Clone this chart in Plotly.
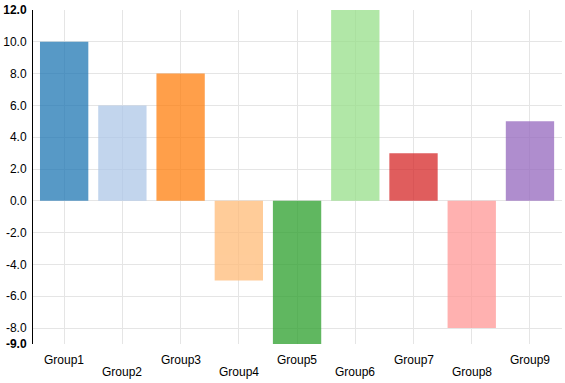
import plotly.graph_objects as go

categories = ["Group1", "Group2", "Group3", "Group4", "Group5", "Group6", "Group7", "Group8", "Group9"]
values = [10, 6, 8, -5, -9, 12, 3, -8, 5]
colors = ["#1f77b4", "#aec7e8", "#ff7f0e", "#ffbb78", "#2ca02c", "#98df8a", "#d62728", "#ff9896", "#9467bd"]
y_ticks = [-9, -8, -6, -4, -2, 0, 2, 4, 6, 8, 10, 12]

def fmt(v):
    s = f"{v:.1f}"
    return f"<b>{s}</b>" if v in (min(y_ticks), max(y_ticks)) else s

fig = go.Figure(go.Bar(
    x=list(range(len(categories))), y=values,
    marker=dict(color=colors, line=dict(width=0)),
    opacity=0.75,
))

annotations = []
for i, c in enumerate(categories):
    annotations.append(dict(
        x=i, y=0, xref="x", yref="paper", text=c, showarrow=False,
        xanchor="center", yanchor="top", yshift=-7 if i % 2 == 0 else -19,
        font=dict(family="Arial", size=12, color="#000"),
    ))

fig.update_layout(
    width=565, height=383,
    margin=dict(l=33, r=3, t=10, b=39),
    paper_bgcolor="white", plot_bgcolor="white",
    bargap=0.17, showlegend=False,
    annotations=annotations,
    font=dict(family="Arial", size=12, color="#000"),
    xaxis=dict(
        range=[-0.535, len(categories) - 0.45],
        tickvals=list(range(len(categories))), showticklabels=False,
        showgrid=True, gridcolor="#e5e5e5", gridwidth=1,
        zeroline=False, showline=False, ticks="",
    ),
    yaxis=dict(
        range=[min(y_ticks), max(y_ticks)],
        tickvals=y_ticks, ticktext=[fmt(v) for v in y_ticks],
        showgrid=True, gridcolor="#e5e5e5", gridwidth=1,
        zeroline=False, showline=True, linecolor="#000", linewidth=1,
        ticks="", ticklabelstandoff=3,
        tickfont=dict(family="Arial", size=12, color="#000"),
    ),
)

fig.write_html("out.html", config={"displayModeBar": False},
               post_script="document.body.style.margin='0';document.body.style.overflow='hidden';")
